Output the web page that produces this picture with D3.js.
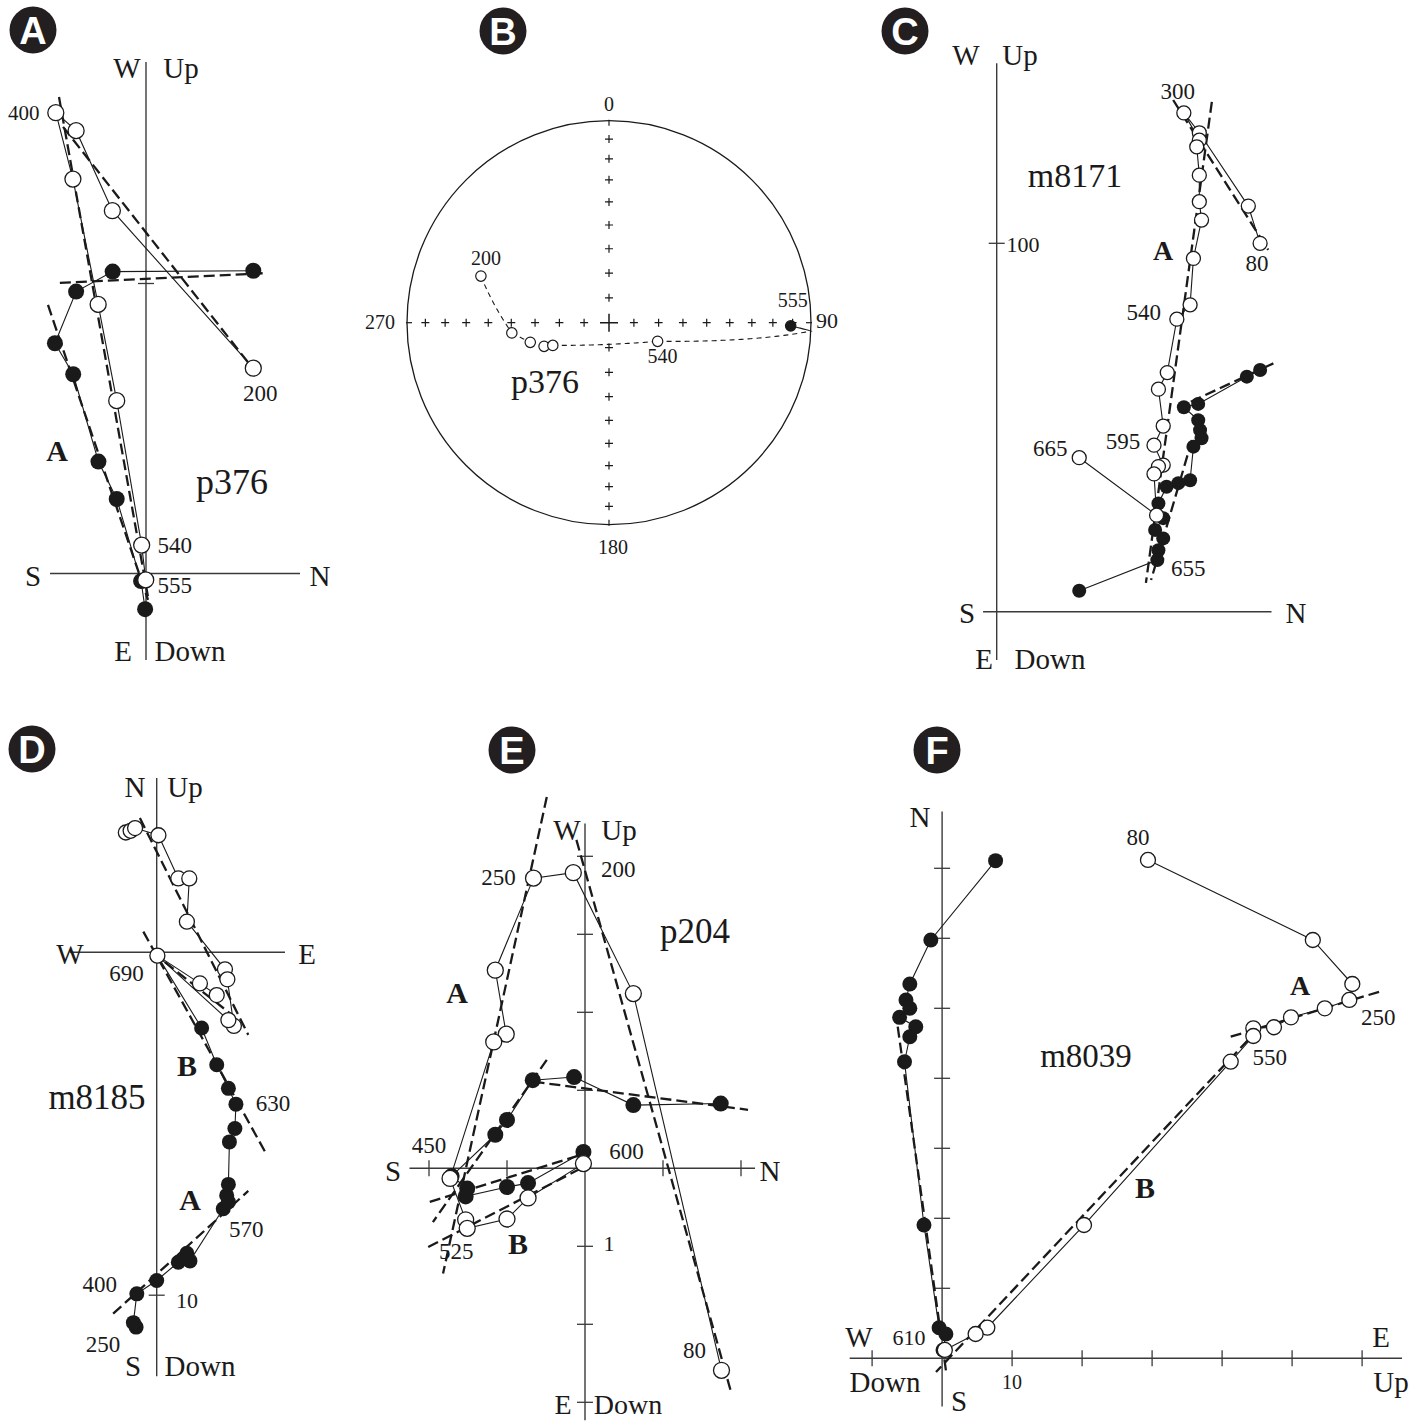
<!DOCTYPE html>
<html>
<head>
<meta charset="utf-8">
<script src="https://cdn.jsdelivr.net/npm/d3@7"></script>
<style>
  body { margin: 0; background: #fff; }
  svg { display: block; }
</style>
</head>
<body>
<svg id="fig" width="1427" height="1425"></svg>
<script>
// ---------------------------------------------------------------------------
// Demagnetisation data (orthogonal vector plots, arbitrary intensity units)
// Open circles = vertical-plane projection, filled circles = horizontal plane
// ---------------------------------------------------------------------------

// A: p376  (horizontal axis S–N, vertical axis W/Up – E/Down)
const pA_openN  = [3.70, -1.16, -2.41, -3.11, -2.52, -1.65, -1.01, -0.15, -0.01];
const pA_openUp = [7.08, 12.51, 15.27, 15.89, 13.60, 9.28, 5.96, 0.98, -0.22];
const pA_fillN  = [3.70, -1.15, -2.41, -3.14, -2.51, -1.64, -1.01, -0.17, -0.03];
const pA_fillW  = [10.44, 10.41, 9.72, 7.94, 6.87, 3.86, 2.57, -0.26, -1.23];
const pA_fits   = [[[-3.00, 16.43], [0.07, -0.81]], [[-2.86, 15.40], [3.59, 7.19]],
                   [[-2.97, 10.02], [4.17, 10.36]], [[-3.38, 9.26], [0.07, -0.91]]];
const pA_temps  = ['200', '400', '540', '555'];

// B: p376 on an equal-area stereonet (declination, inclination in degrees)
const pB_dec   = [290, 264, 256, 250, 248, 111, 91];
const pB_inc   = [-33, -50, -57, -62, -65.5, -69, 11];
const pB_temps = ['200', '540', '555'];

// C: m8171 (horizontal axis S–N, vertical axis W/Up – E/Down)
const pC_openN  = [71.5, 68.3, 55.0, 50.8, 55.0, 54.3, 55.0, 55.0, 55.6, 53.4, 52.5,
                   48.9, 46.3, 43.9, 45.2, 42.7, 45.2, 43.9, 42.7, 43.4, 22.4];
const pC_openUp = [100.0, 110.1, 130.0, 135.4, 128.0, 126.2, 118.5, 111.3, 106.3, 95.9, 83.3,
                   79.4, 64.9, 60.4, 50.4, 45.2, 39.8, 39.4, 37.4, 26.2, 41.8];
const pC_fillN  = [71.5, 67.9, 54.7, 50.8, 54.7, 55.2, 55.6, 53.4, 52.5, 49.3, 46.1,
                   43.9, 45.2, 43.0, 45.2, 43.9, 43.6, 22.4];
const pC_fillW  = [65.6, 63.8, 56.4, 55.5, 52.0, 49.3, 47.1, 44.8, 35.7, 34.9, 33.9,
                   29.4, 25.4, 22.2, 19.9, 16.7, 14.0, 5.7];
const pC_fits   = [[[47.9, 138.9], [73.7, 98.2]], [[58.4, 138.4], [40.5, 7.8]],
                   [[75.1, 67.4], [52.5, 56.9]], [[53.0, 46.6], [41.9, 8.6]]];
const pC_temps  = ['80', '300', '540', '595', '665', '655'];

// D: m8185 (horizontal axis W–E, vertical axis N/Up – S/Down)
const pD_openE  = [-0.90, -0.76, -0.63, 0.05, 0.63, 0.95, 0.88, 1.99, 2.06, 2.25, 2.09, 0.02, 1.26, 1.75];
const pD_openUp = [3.49, 3.54, 3.62, 3.41, 2.15, 2.15, 0.89, -0.50, -0.79, -2.15, -1.98, -0.10, -0.91, -1.25];
const pD_fillE  = [-0.60, -0.68, -0.58, 0.00, 0.63, 0.88, 0.97, 1.94, 2.09, 2.04, 2.09, 2.12,
                   2.28, 2.31, 2.09, 1.75, 1.31, 0.02];
const pD_fillN  = [-10.93, -10.80, -9.96, -9.57, -9.04, -8.78, -9.00, -7.48, -7.28, -7.09, -6.77,
                   -5.53, -5.14, -4.43, -3.97, -3.28, -2.21, -0.10];
const pD_fits   = [[[-0.49, 3.91], [2.67, -2.41]], [[-0.39, 0.60], [3.21, -5.91]],
                   [[-1.27, -10.54], [2.67, -6.96]], [[0.24, -0.29], [2.20, -1.83]]];
const pD_temps  = ['690', '630', '570', '400', '250'];

// E: p204 (horizontal axis S–N, vertical axis W/Up – E/Down)
const pE_openN  = [1.75, 0.62, -0.15, -0.66, -1.15, -1.01, -1.17, -1.73, -1.53, -1.51, -1.00, -0.73, -0.02];
const pE_openUp = [-2.59, 2.24, 3.79, 3.72, 2.54, 1.72, 1.62, -0.13, -0.66, -0.77, -0.65, -0.38, 0.06];
const pE_fillN  = [1.74, 0.62, -0.14, -0.67, -1.00, -1.15, -1.71, -1.51, -1.53, -1.00, -0.73, -0.02];
const pE_fillW  = [0.83, 0.81, 1.17, 1.13, 0.62, 0.43, -0.10, -0.26, -0.36, -0.24, -0.19, 0.21];
const pE_fits   = [[[-0.49, 4.76], [-1.82, -1.35]], [[-0.11, 4.21], [1.87, -2.86]],
                   [[-0.66, 1.11], [2.09, 0.75]], [[-0.49, 1.39], [-1.95, -0.69]],
                   [[-1.99, -0.43], [-0.06, 0.17]], [[-2.01, -1.01], [-0.01, 0.02]]];
const pE_temps  = ['80', '200', '250', '450', '525', '600'];

// F: m8039 (vertical axis N–S, horizontal axis W/Down – E/Up)
const pF_openUp = [29.41, 52.96, 58.60, 58.17, 54.67, 49.84, 47.41, 44.46, 44.46, 41.23, 20.27, 6.46, 4.79, 0.39];
const pF_openN  = [71.19, 59.76, 53.47, 51.19, 50.00, 48.71, 47.29, 47.14, 46.04, 42.37, 19.04, 4.37, 3.47, 1.19];
const pF_fillE  = [7.64, -1.61, -4.61, -5.16, -4.61, -6.07, -3.76, -4.61, -5.37, -2.59, -0.43, 0.54, 0.13];
const pF_fillN  = [71.09, 59.76, 53.47, 51.19, 50.00, 48.71, 47.37, 45.94, 42.37, 19.04, 4.37, 3.47, 1.19];
const pF_fits   = [[[41.23, 45.94], [62.47, 52.37]], [[43.70, 45.47], [-0.87, -1.96]],
                   [[-6.34, 47.37], [0.64, -2.39]]];
const pF_temps  = ['80', '250', '550', '610'];

// ---------------------------------------------------------------------------
const svg = d3.select('#fig');
const SERIF = "'Liberation Serif','Times New Roman',Times,serif";
const SANS = "'Liberation Sans',Arial,Helvetica,sans-serif";
const INK = '#1a1a1a';

function txt(g, x, y, s, size, o = {}) {
  return g.append('text')
    .attr('x', x).attr('y', y).attr('dy', '0.35em')
    .attr('text-anchor', o.anchor || 'middle')
    .attr('font-family', o.family || SERIF)
    .attr('font-size', size)
    .attr('font-weight', o.weight || 'normal')
    .attr('fill', o.fill || INK)
    .text(s);
}

function badge(cx, cy, letter) {
  const g = svg.append('g');
  g.append('circle').attr('cx', cx).attr('cy', cy).attr('r', 23.5).attr('fill', '#231f20');
  txt(g, cx, cy + 1, letter, 38, { family: SANS, weight: 'bold', fill: '#fff' });
}

// Orthogonal vector (Zijderveld) plot
function drawZij(c) {
  const g = svg.append('g');
  const x = d3.scaleLinear().domain(c.xDom).range(c.xDom.map(v => c.ox + v * c.u));
  const y = d3.scaleLinear().domain(c.yDom).range(c.yDom.map(v => c.oy - v * c.u));
  const axisCol = '#3a3a3a';

  g.append('line').attr('x1', x(c.xDom[0])).attr('x2', x(c.xDom[1]))
    .attr('y1', y(0)).attr('y2', y(0)).attr('stroke', axisCol).attr('stroke-width', 1.4);
  g.append('line').attr('x1', x(0)).attr('x2', x(0))
    .attr('y1', y(c.yDom[0])).attr('y2', y(c.yDom[1])).attr('stroke', axisCol).attr('stroke-width', 1.4);
  (c.xTicks || []).forEach(t => g.append('line')
    .attr('x1', x(t)).attr('x2', x(t)).attr('y1', y(0) - 8).attr('y2', y(0) + 8)
    .attr('stroke', axisCol).attr('stroke-width', 1.3));
  (c.yTicks || []).forEach(t => g.append('line')
    .attr('x1', x(0) - 8).attr('x2', x(0) + 8).attr('y1', y(t)).attr('y2', y(t))
    .attr('stroke', axisCol).attr('stroke-width', 1.3));

  const line = d3.line().x(d => x(d[0])).y(d => y(d[1]));
  const fill = d3.zip(c.fillX, c.fillY);
  const open = d3.zip(c.openX, c.openY);

  g.append('path').attr('d', line(fill)).attr('fill', 'none').attr('stroke', INK).attr('stroke-width', 1.1);
  g.append('path').attr('d', line(open)).attr('fill', 'none').attr('stroke', INK).attr('stroke-width', 1.1);

  c.fits.forEach(f => g.append('path').attr('d', line(f)).attr('fill', 'none')
    .attr('stroke', INK).attr('stroke-width', 2.3).attr('stroke-dasharray', '11,5'));

  g.selectAll(null).data(fill).join('circle')
    .attr('cx', d => x(d[0])).attr('cy', d => y(d[1])).attr('r', c.r).attr('fill', INK);
  g.selectAll(null).data(open).join('circle')
    .attr('cx', d => x(d[0])).attr('cy', d => y(d[1])).attr('r', c.r)
    .attr('fill', '#fff').attr('stroke', INK).attr('stroke-width', 1.3);

  c.stepLabels.forEach((l, k) => {
    const p = (l.s === 'o' ? open : fill)[l.i];
    txt(g, x(p[0]) + l.dx, y(p[1]) + l.dy, c.temps[k], l.size || 23);
  });
  c.labels.forEach(l => txt(g, l.x, l.y, l.t, l.size, l));
  return g;
}

// ----------------------------- Panel A -------------------------------------
badge(33, 30, 'A');
drawZij({
  ox: 146, oy: 573.5, u: 29, r: 8,
  xDom: [-3.31, 5.31], yDom: [-2.98, 17.64], yTicks: [10],
  openX: pA_openN, openY: pA_openUp, fillX: pA_fillN, fillY: pA_fillW, fits: pA_fits,
  temps: pA_temps,
  stepLabels: [{ s: 'o', i: 0, dx: 7, dy: 25 }, { s: 'o', i: 3, dx: -32, dy: 0, size: 21 },
               { s: 'o', i: 7, dx: 33, dy: 0 }, { s: 'o', i: 8, dx: 29, dy: 5 }],
  labels: [
    { x: 127, y: 68, t: 'W', size: 29 }, { x: 181, y: 68, t: 'Up', size: 29 },
    { x: 33, y: 576, t: 'S', size: 29 }, { x: 320, y: 576, t: 'N', size: 29 },
    { x: 123, y: 651, t: 'E', size: 29 }, { x: 190, y: 651, t: 'Down', size: 29 },
    { x: 57, y: 450, t: 'A', size: 30, weight: 'bold' },
    { x: 232, y: 481, t: 'p376', size: 36 }
  ]
});

// ----------------------------- Panel B -------------------------------------
badge(503, 31, 'B');
(function () {
  const g = svg.append('g');
  const cx = 609, cy = 322.7, R = 202;
  const rad = d3.scaleLinear().domain([0, 1]).range([0, R]);
  const toRad = Math.PI / 180;
  // Lambert equal-area, both hemispheres folded onto the lower one
  const proj = (dec, inc) => {
    const r = rad(Math.SQRT2 * Math.sin((90 - Math.abs(inc)) / 2 * toRad));
    return [cx + r * Math.sin(dec * toRad), cy - r * Math.cos(dec * toRad)];
  };

  g.append('circle').attr('cx', cx).attr('cy', cy).attr('r', R)
    .attr('fill', 'none').attr('stroke', INK).attr('stroke-width', 1.3);
  [0, 90, 180, 270].forEach(d => {
    const a = d * toRad;
    g.append('line')
      .attr('x1', cx + (R - 5) * Math.sin(a)).attr('y1', cy - (R - 5) * Math.cos(a))
      .attr('x2', cx + (R + 1) * Math.sin(a)).attr('y2', cy - (R + 1) * Math.cos(a))
      .attr('stroke', INK).attr('stroke-width', 1.2);
  });
  const crosses = [];
  [0, 90, 180, 270].forEach(d => d3.range(10, 90, 10).forEach(i => crosses.push(proj(d, i))));
  crosses.forEach(([px, py]) => {
    g.append('path').attr('d', `M${px - 4},${py}H${px + 4}M${px},${py - 4}V${py + 4}`)
      .attr('stroke', INK).attr('stroke-width', 1.2);
  });
  g.append('path').attr('d', `M${cx - 9},${cy}H${cx + 9}M${cx},${cy - 9}V${cy + 9}`)
    .attr('stroke', INK).attr('stroke-width', 1.5);

  // great-circle paths between successive steps; dashed above the horizontal plane
  const segs = [];
  for (let k = 0; k < pB_dec.length - 1; k++) {
    const interp = d3.geoInterpolate([pB_dec[k], pB_inc[k]], [pB_dec[k + 1], pB_inc[k + 1]]);
    let cur = null;
    for (let s = 0; s <= 80; s++) {
      const [lo, la] = interp(s / 80);
      const up = la < 0;
      const pt = proj(lo, la);
      if (!cur || cur.up !== up) {
        if (cur) cur.pts.push(pt);
        cur = { up, pts: cur ? [cur.pts[cur.pts.length - 1], pt] : [pt] };
        segs.push(cur);
      } else cur.pts.push(pt);
    }
  }
  const ln = d3.line();
  segs.forEach(sg => g.append('path').attr('d', ln(sg.pts)).attr('fill', 'none')
    .attr('stroke', INK).attr('stroke-width', 1.1)
    .attr('stroke-dasharray', sg.up ? '5,4' : null));

  const pts = d3.range(pB_dec.length).map(i => ({ p: proj(pB_dec[i], pB_inc[i]), up: pB_inc[i] < 0 }));
  g.selectAll(null).data(pts).join('circle')
    .attr('cx', d => d.p[0]).attr('cy', d => d.p[1]).attr('r', 5.2)
    .attr('fill', d => d.up ? '#fff' : INK).attr('stroke', INK).attr('stroke-width', 1.2);

  const lab = [{ i: 0, dx: 5, dy: -18.5 }, { i: 5, dx: 5, dy: 15 }, { i: 6, dx: 2, dy: -26 }];
  lab.forEach((l, k) => txt(g, pts[l.i].p[0] + l.dx, pts[l.i].p[1] + l.dy, pB_temps[k], 20));
  txt(g, 609, 104, '0', 20);
  txt(g, 613, 547, '180', 20);
  txt(g, 380, 322, '270', 20);
  txt(g, 827, 320, '90', 22);
  txt(g, 545, 381, 'p376', 34);
})();

// ----------------------------- Panel C -------------------------------------
badge(905, 31, 'C');
drawZij({
  ox: 996.7, oy: 611.7, u: 3.684, r: 7,
  xDom: [-3.7, 74.6], yDom: [-13.1, 148.9], yTicks: [100],
  openX: pC_openN, openY: pC_openUp, fillX: pC_fillN, fillY: pC_fillW, fits: pC_fits,
  temps: pC_temps,
  stepLabels: [{ s: 'o', i: 0, dx: -3, dy: 20 }, { s: 'o', i: 3, dx: -6, dy: -22 },
               { s: 'o', i: 11, dx: -33, dy: -7 }, { s: 'o', i: 15, dx: -31, dy: -4 },
               { s: 'o', i: 20, dx: -29, dy: -10 }, { s: 'f', i: 16, dx: 31, dy: 8 }],
  labels: [
    { x: 966, y: 55, t: 'W', size: 29 }, { x: 1020, y: 55, t: 'Up', size: 29 },
    { x: 967, y: 613, t: 'S', size: 29 }, { x: 1296, y: 613, t: 'N', size: 29 },
    { x: 984, y: 659, t: 'E', size: 29 }, { x: 1050, y: 659, t: 'Down', size: 29 },
    { x: 1023, y: 244, t: '100', size: 22 },
    { x: 1163, y: 250, t: 'A', size: 28, weight: 'bold' },
    { x: 1075, y: 175, t: 'm8171', size: 34 }
  ]
});

// ----------------------------- Panel D -------------------------------------
badge(32, 749, 'D');
drawZij({
  ox: 156.7, oy: 952.2, u: 34.3, r: 7.5,
  xDom: [-2.53, 3.74], yDom: [-12.36, 5.08], yTicks: [-10],
  openX: pD_openE, openY: pD_openUp, fillX: pD_fillE, fillY: pD_fillN, fits: pD_fits,
  temps: pD_temps,
  stepLabels: [{ s: 'o', i: 11, dx: -31, dy: 17 }, { s: 'f', i: 13, dx: 37, dy: -1 },
               { s: 'f', i: 7, dx: 23, dy: 20 }, { s: 'f', i: 2, dx: -37, dy: -10 },
               { s: 'f', i: 0, dx: -33, dy: 17 }],
  labels: [
    { x: 135, y: 787, t: 'N', size: 29 }, { x: 185, y: 787, t: 'Up', size: 29 },
    { x: 70, y: 954, t: 'W', size: 29 }, { x: 307, y: 954, t: 'E', size: 29 },
    { x: 133, y: 1366, t: 'S', size: 29 }, { x: 200, y: 1366, t: 'Down', size: 29 },
    { x: 187, y: 1300, t: '10', size: 22 },
    { x: 187, y: 1065, t: 'B', size: 30, weight: 'bold' },
    { x: 190, y: 1199, t: 'A', size: 30, weight: 'bold' },
    { x: 97, y: 1097, t: 'm8185', size: 35 }
  ]
});

// ----------------------------- Panel E -------------------------------------
badge(512, 750, 'E');
drawZij({
  ox: 585, oy: 1168.3, u: 78, r: 8,
  xDom: [-2.25, 2.18], yDom: [-3.23, 4.42],
  xTicks: [-2, -1, 1, 2], yTicks: [-3, -2, -1, 1, 2, 3, 4],
  openX: pE_openN, openY: pE_openUp, fillX: pE_fillN, fillY: pE_fillW, fits: pE_fits,
  temps: pE_temps,
  stepLabels: [{ s: 'o', i: 0, dx: -27, dy: -20 }, { s: 'o', i: 2, dx: 45, dy: -4 },
               { s: 'o', i: 3, dx: -35, dy: -1 }, { s: 'o', i: 7, dx: -21, dy: -33 },
               { s: 'o', i: 9, dx: -11, dy: 23 }, { s: 'o', i: 12, dx: 43, dy: -13 }],
  labels: [
    { x: 567, y: 830, t: 'W', size: 29 }, { x: 619, y: 830, t: 'Up', size: 29 },
    { x: 393, y: 1171, t: 'S', size: 29 }, { x: 770, y: 1171, t: 'N', size: 29 },
    { x: 563, y: 1404, t: 'E', size: 28 }, { x: 628, y: 1404, t: 'Down', size: 28 },
    { x: 609, y: 1243, t: '1', size: 22 },
    { x: 457, y: 992, t: 'A', size: 30, weight: 'bold' },
    { x: 518, y: 1243, t: 'B', size: 30, weight: 'bold' },
    { x: 695, y: 931, t: 'p204', size: 35 }
  ]
});

// ----------------------------- Panel F -------------------------------------
badge(937, 750, 'F');
drawZij({
  ox: 942.1, oy: 1358.3, u: 7, r: 7.5,
  xDom: [-13.2, 65.7], yDom: [-6.9, 78.1],
  xTicks: [-10, 10, 20, 30, 40, 50, 60], yTicks: [10, 20, 30, 40, 50, 60, 70],
  openX: pF_openUp, openY: pF_openN, fillX: pF_fillE, fillY: pF_fillN, fits: pF_fits,
  temps: pF_temps,
  stepLabels: [{ s: 'o', i: 0, dx: -10, dy: -23 }, { s: 'o', i: 3, dx: 29, dy: 17 },
               { s: 'o', i: 9, dx: 39, dy: -5 }, { s: 'f', i: 10, dx: -30, dy: 10, size: 22 }],
  labels: [
    { x: 920, y: 817, t: 'N', size: 29 },
    { x: 859, y: 1337, t: 'W', size: 29 }, { x: 1381, y: 1337, t: 'E', size: 29 },
    { x: 885, y: 1382, t: 'Down', size: 29 }, { x: 1391, y: 1382, t: 'Up', size: 29 },
    { x: 959, y: 1401, t: 'S', size: 29 },
    { x: 1012, y: 1382, t: '10', size: 20 },
    { x: 1300, y: 985, t: 'A', size: 28, weight: 'bold' },
    { x: 1145, y: 1187, t: 'B', size: 30, weight: 'bold' },
    { x: 1086, y: 1055, t: 'm8039', size: 33 }
  ]
});
</script>
</body>
</html>
